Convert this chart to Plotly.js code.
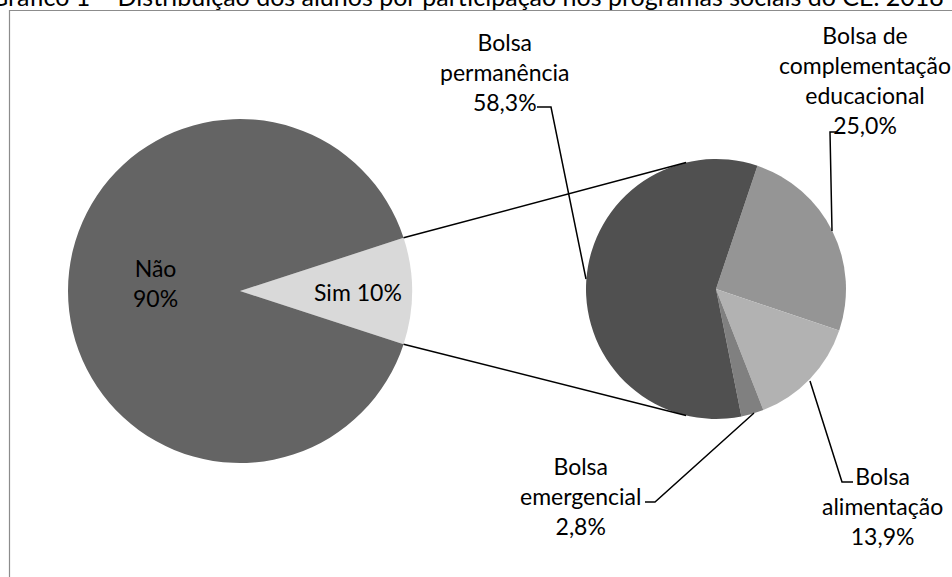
<!DOCTYPE html>
<html>
<head>
<meta charset="utf-8">
<script src="https://cdn.plot.ly/plotly-3.0.1.min.js"></script>
<style>html,body{margin:0;padding:0;background:#fff;}#chart{width:952px;height:577px;}</style>
</head>
<body>
<div id="chart"></div>
<script>
// ---- data ----
var titleText = 'Gráfico 1 – Distribuição dos alunos por participação nos programas sociais do CE. 2018';
var mainLabels = ['Sim', 'Não'];
var mainValues = [10, 90];
var subLabels = ['Bolsa de complementação educacional', 'Bolsa alimentação', 'Bolsa emergencial', 'Bolsa permanência'];
var subLabelLines = ['Bolsa de<br>complementação<br>educacional', 'Bolsa<br>alimentação', 'Bolsa<br>emergencial', 'Bolsa<br>permanência'];
var subValues = [25.0, 13.9, 2.8, 58.3];

// ---- styles / layout geometry ----
var W = 952, H = 577;
var FONT = 'Lato, "Open Sans", sans-serif';
var FS = 23;
var mainColors = ['#d9d9d9', '#646464'];
var subColors = ['#959595', '#b2b2b2', '#808080', '#505050'];
var c1 = {x: 240, y: 291, r: 172};
var c2 = {x: 716, y: 289, r: 130};

function px(x) { return x / W; }
function py(y) { return 1 - y / H; }
function fmt(v) { return v.toFixed(1).replace('.', ',') + '%'; }

var mainTotal = mainValues.reduce(function(a, b) { return a + b; }, 0);
var simAngle = mainValues[0] / mainTotal * 360; // degrees
var mainRotation = 90 - simAngle / 2;

var traces = [
  {
    type: 'pie', labels: mainLabels, values: mainValues, sort: false,
    direction: 'clockwise', rotation: mainRotation,
    marker: {colors: mainColors, line: {width: 0}},
    textinfo: 'none', hoverinfo: 'label+percent', showlegend: false,
    domain: {x: [px(c1.x - c1.r), px(c1.x + c1.r)], y: [py(c1.y + c1.r), py(c1.y - c1.r)]}
  },
  {
    type: 'pie', labels: subLabels, values: subValues, sort: false,
    direction: 'clockwise', rotation: 18.6,
    marker: {colors: subColors, line: {width: 0}},
    textinfo: 'none', hoverinfo: 'label+percent', showlegend: false,
    domain: {x: [px(c2.x - c2.r), px(c2.x + c2.r)], y: [py(c2.y + c2.r), py(c2.y - c2.r)]}
  }
];

// connector lines from "Sim" slice edges to the sub-pie
var half = simAngle / 2 * Math.PI / 180;
var p1top = {x: c1.x + c1.r * Math.cos(half), y: c1.y - c1.r * Math.sin(half)};
var p1bot = {x: c1.x + c1.r * Math.cos(half), y: c1.y + c1.r * Math.sin(half)};
var a2 = 13.3 * Math.PI / 180;
var p2top = {x: c2.x - c2.r * Math.sin(a2), y: c2.y - c2.r * Math.cos(a2)};
var p2bot = {x: c2.x - c2.r * Math.sin(a2), y: c2.y + c2.r * Math.cos(a2)};

function path(pts) {
  return pts.map(function(p, i) { return (i ? 'L' : 'M') + px(p[0]) + ',' + py(p[1]); }).join(' ');
}
var lineStyle = {color: '#000000', width: 1.5};
var shapes = [
  {type: 'rect', xref: 'paper', yref: 'paper', x0: px(9.5), x1: px(970), y0: py(600), y1: py(10.5),
   line: {color: '#8c8c8c', width: 1.2}, fillcolor: 'rgba(0,0,0,0)', layer: 'below'},
  {type: 'path', xref: 'paper', yref: 'paper', path: path([[p1top.x, p1top.y], [p2top.x, p2top.y]]), line: lineStyle},
  {type: 'path', xref: 'paper', yref: 'paper', path: path([[p1bot.x, p1bot.y], [p2bot.x, p2bot.y]]), line: lineStyle},
  // leader lines
  {type: 'path', xref: 'paper', yref: 'paper', path: path([[537, 107], [551, 107], [586, 279]]), line: lineStyle},
  {type: 'path', xref: 'paper', yref: 'paper', path: path([[836, 132], [830, 132], [832, 231]]), line: lineStyle},
  {type: 'path', xref: 'paper', yref: 'paper', path: path([[645, 502], [655, 502], [754, 413]]), line: lineStyle},
  {type: 'path', xref: 'paper', yref: 'paper', path: path([[853, 482], [842, 482], [810, 381]]), line: lineStyle}
];

var subPos = [[865, 80], [882, 506], [580, 496], [505, 72]];
var annotations = [];
subLabels.forEach(function(l, i) {
  annotations.push({
    xref: 'paper', yref: 'paper', x: px(subPos[i][0]), y: py(subPos[i][1]),
    xanchor: 'center', yanchor: 'middle', showarrow: false,
    text: subLabelLines[i] + '<br>' + fmt(subValues[i]),
    font: {family: FONT, size: FS, color: '#000000'}
  });
});
annotations.push({
  xref: 'paper', yref: 'paper', x: px(155), y: py(283), xanchor: 'center', yanchor: 'middle', showarrow: false,
  text: mainLabels[1] + '<br>' + mainValues[1] + '%', font: {family: FONT, size: FS, color: '#000000'}
});
annotations.push({
  xref: 'paper', yref: 'paper', x: px(358), y: py(292), xanchor: 'center', yanchor: 'middle', showarrow: false,
  text: mainLabels[0] + ' ' + mainValues[0] + '%', font: {family: FONT, size: FS, color: '#000000'}
});
annotations.push({
  xref: 'paper', yref: 'paper', x: px(-12), y: py(13), xanchor: 'left', yanchor: 'bottom', showarrow: false,
  text: titleText, font: {family: FONT, size: 25, color: '#000000'}
});

var layout = {
  width: W, height: H,
  margin: {l: 0, r: 0, t: 0, b: 0},
  paper_bgcolor: '#ffffff', plot_bgcolor: '#ffffff',
  showlegend: false,
  shapes: shapes, annotations: annotations
};
Plotly.newPlot('chart', traces, layout, {displayModeBar: false, staticPlot: true});
</script>
</body>
</html>
